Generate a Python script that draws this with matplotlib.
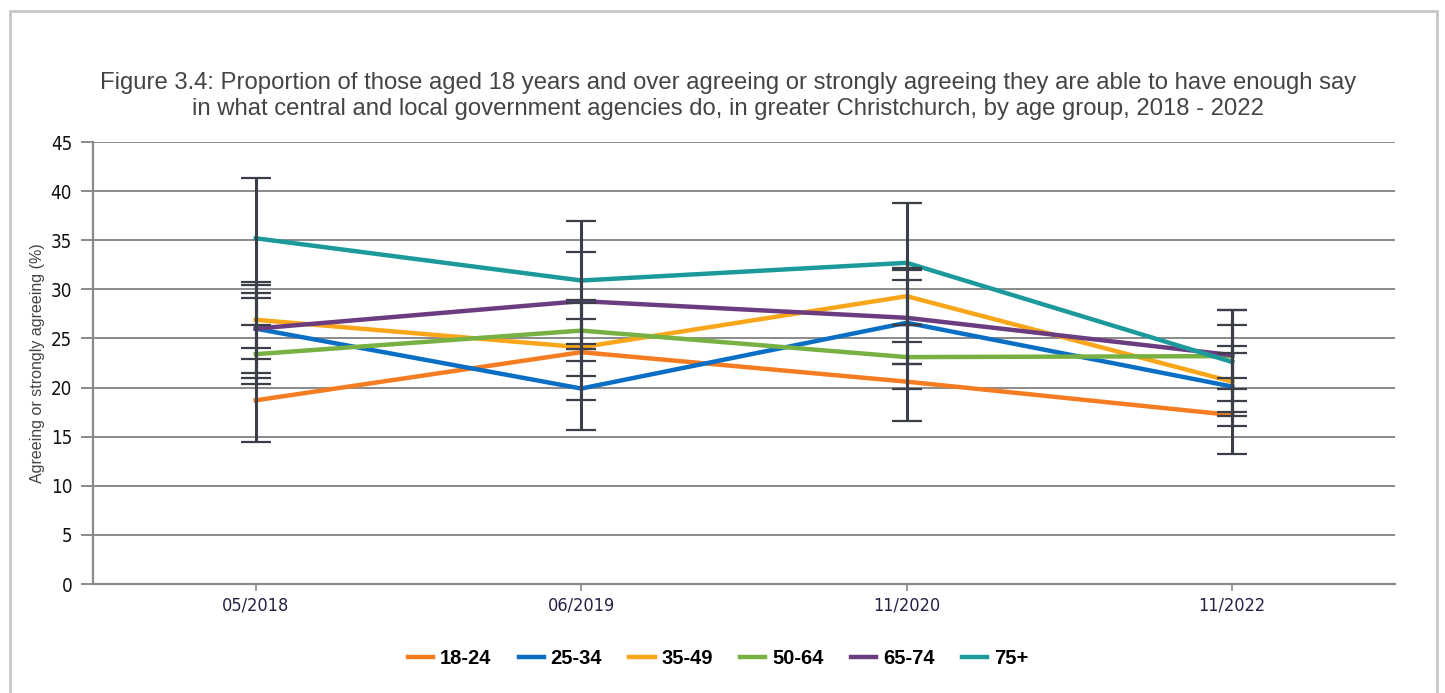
import numpy as np
import matplotlib.pyplot as plt
from matplotlib.patches import Rectangle

# survey waves and age groups
periods = ["05/2018", "06/2019", "11/2020", "11/2022"]
groups = ["18-24", "25-34", "35-49", "50-64", "65-74", "75+"]
colors = ["#f57c20", "#0a6fc4", "#f9a61b", "#77b144", "#6b3d80", "#1c9a9b"]

# proportion agreeing (%) per age group
v_18_24 = [18.7, 23.6, 20.6, 17.2]
v_25_34 = [26.0, 19.9, 26.6, 20.1]
v_35_49 = [26.9, 24.1, 29.3, 20.6]
v_50_64 = [23.4, 25.8, 23.1, 23.2]
v_65_74 = [26.0, 28.8, 27.1, 23.3]
v_75_up = [35.2, 30.9, 32.7, 22.6]

# confidence interval bounds
lo_18_24 = [14.5, 18.7, 16.6, 13.2]
hi_18_24 = [22.9, 28.6, 24.6, 21.0]
lo_25_34 = [21.5, 15.7, 22.4, 16.1]
hi_25_34 = [30.4, 23.9, 31.0, 23.5]
lo_35_49 = [24.0, 21.2, 26.4, 17.1]
hi_35_49 = [29.6, 27.0, 32.2, 24.2]
lo_50_64 = [20.4, 22.7, 19.9, 19.9]
hi_50_64 = [26.4, 28.9, 26.4, 26.4]
lo_65_74 = [21.0, 23.9, 22.4, 18.6]
hi_65_74 = [30.7, 33.8, 32.0, 27.9]
lo_75_up = [29.1, 24.4, 26.4, 17.5]
hi_75_up = [41.3, 37.0, 38.8, 27.9]

values = [v_18_24, v_25_34, v_35_49, v_50_64, v_65_74, v_75_up]
lows = [lo_18_24, lo_25_34, lo_35_49, lo_50_64, lo_65_74, lo_75_up]
highs = [hi_18_24, hi_25_34, hi_35_49, hi_50_64, hi_65_74, hi_75_up]

plt.rcParams["font.family"] = ["Liberation Sans", "DejaVu Sans"]

fig = plt.figure(figsize=(14.45, 6.93), dpi=100)
ax = fig.add_axes([93 / 1445, 109 / 693, 1302 / 1445, 442 / 693])

# outer frame
fig.patches.append(Rectangle((10 / 1445, -0.05), 1427 / 1445, 1.05 - 11 / 693,
                             transform=fig.transFigure, fill=False,
                             edgecolor="#c8c8c8", linewidth=2))

x = np.arange(len(periods))
for vals, col, name in zip(values, colors, groups):
    ax.plot(x, vals, color=col, linewidth=3.2, label=name, zorder=3,
            solid_joinstyle="miter")

for vals, lo, hi in zip(values, lows, highs):
    v = np.array(vals)
    err = [v - np.array(lo), np.array(hi) - v]
    _, caps, bars = ax.errorbar(x, v, yerr=err, fmt="none", ecolor="#3b3f4a",
                                elinewidth=2.2, capsize=11, capthick=1.6, zorder=4)
    for c in caps:
        c.set_color("#8e9096")

ax.set_xlim(-0.5, len(periods) - 0.5)
ax.set_ylim(0, 45)
ax.set_yticks(range(0, 46, 5))
ax.set_xticks(x)
ax.set_xticklabels(periods, family="DejaVu Sans", stretch="condensed",
                   fontsize=13, color="#222244")
for lab in ax.get_yticklabels():
    lab.set_family("DejaVu Sans")
    lab.set_stretch("condensed")
    lab.set_fontsize(13.5)
    lab.set_color("#111111")
ax.yaxis.grid(True, color="#8a8a8a", linewidth=1.4)
ax.set_axisbelow(True)
for s in ["top", "right"]:
    ax.spines[s].set_visible(False)
for s in ["left", "bottom"]:
    ax.spines[s].set_color("#8a8a8a")
    ax.spines[s].set_linewidth(1.6)
ax.tick_params(axis="y", length=9, color="#8a8a8a", width=1.4, pad=6)
ax.tick_params(axis="x", length=5, color="#8a8a8a", width=1.2, pad=4)

ax.set_ylabel("Agreeing or strongly agreeing (%)", fontsize=11.5,
              color="#444444")
ax.yaxis.set_label_coords(-48 / 1302, 0.5)

fig.text(0.504, 0.862,
         "Figure 3.4: Proportion of those aged 18 years and over agreeing or strongly agreeing they are able to have enough say\n"
         "in what central and local government agencies do, in greater Christchurch, by age group, 2018 - 2022",
         ha="center", va="center", fontsize=17.2, color="#444444", linespacing=1.25)

fig.legend(loc="center", bbox_to_anchor=(0.497, 0.05), ncol=6, frameon=False,
           prop={"weight": "bold", "size": 14.5}, handlelength=1.25,
           handletextpad=0.35, columnspacing=1.35)

plt.savefig("out.png", dpi=100)
